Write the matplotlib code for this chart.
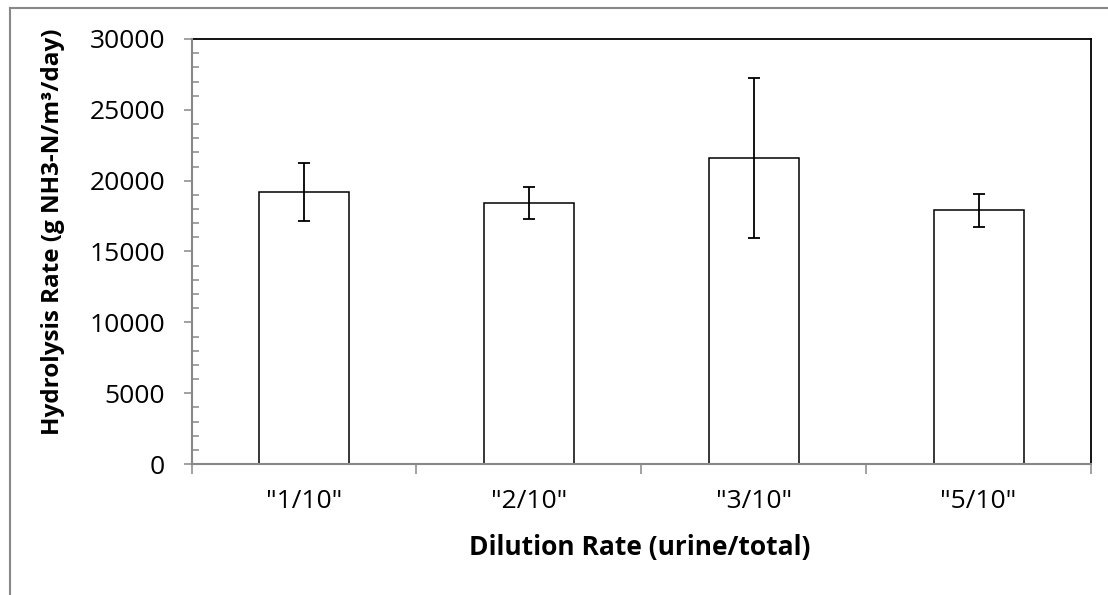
import numpy as np
import matplotlib.pyplot as plt
from matplotlib.lines import Line2D
from matplotlib.ticker import MultipleLocator, FixedLocator

# Data
categories = ['"1/10"', '"2/10"', '"3/10"', '"5/10"']
rates = [19200, 18400, 21620, 17900]
errors = [2030, 1130, 5650, 1180]

plt.rcParams['font.family'] = ['Open Sans', 'DejaVu Sans']

fig = plt.figure(figsize=(11.08, 5.95), dpi=100)
ax = fig.add_axes([191.5 / 1108, 1 - 464 / 595, (1091 - 191.5) / 1108, (464 - 39) / 595])

x = np.arange(len(categories))
ax.bar(x, rates, width=0.4, color='white', edgecolor='black', linewidth=1.1, zorder=2)
ax.errorbar(x, rates, yerr=errors, fmt='none', ecolor='black', elinewidth=1.3,
            capsize=4.3, capthick=1.3, zorder=3)

ax.set_xlim(-0.5, len(categories) - 0.5)
ax.set_ylim(0, 30000)
ax.yaxis.set_major_locator(MultipleLocator(5000))
ax.yaxis.set_minor_locator(MultipleLocator(1000))
ax.set_xticks(x)
ax.set_xticklabels(categories, fontsize=19)
ax.xaxis.set_minor_locator(FixedLocator(np.arange(-0.5, len(categories), 1.0)))
ax.tick_params(axis='x', which='major', length=0, pad=18)
ax.tick_params(axis='x', which='minor', length=7, width=1.1, color='#888888', direction='out')
ax.tick_params(axis='y', which='major', length=6, width=1.1, color='#888888',
               direction='out', labelsize=19, pad=13)
ax.tick_params(axis='y', which='minor', length=5, width=1.1, color='#888888', direction='in')

for s in ['top', 'right']:
    ax.spines[s].set_color('black')
    ax.spines[s].set_linewidth(1.3)
for s in ['left', 'bottom']:
    ax.spines[s].set_color('#888888')
    ax.spines[s].set_linewidth(1.5)
    ax.spines[s].set_zorder(4)

ax.set_xlabel('Dilution Rate (urine/total)', fontsize=19, fontweight='bold')
ax.set_ylabel('Hydrolysis Rate (g NH3-N/m³/day)', fontsize=17.5, fontweight='bold')
ax.xaxis.set_label_coords(0.4986, -0.165)
ax.yaxis.set_label_coords(-0.141, 0.546)

# outer chart border (left and top edges visible)
fig.add_artist(Line2D([9.5 / 1108, 9.5 / 1108], [0, 1 - 8 / 595], color='#888888', lw=1.5,
                      transform=fig.transFigure))
fig.add_artist(Line2D([9.5 / 1108, 1], [1 - 8 / 595, 1 - 8 / 595], color='#888888', lw=1.5,
                      transform=fig.transFigure))

fig.savefig('out.png', dpi=100)
